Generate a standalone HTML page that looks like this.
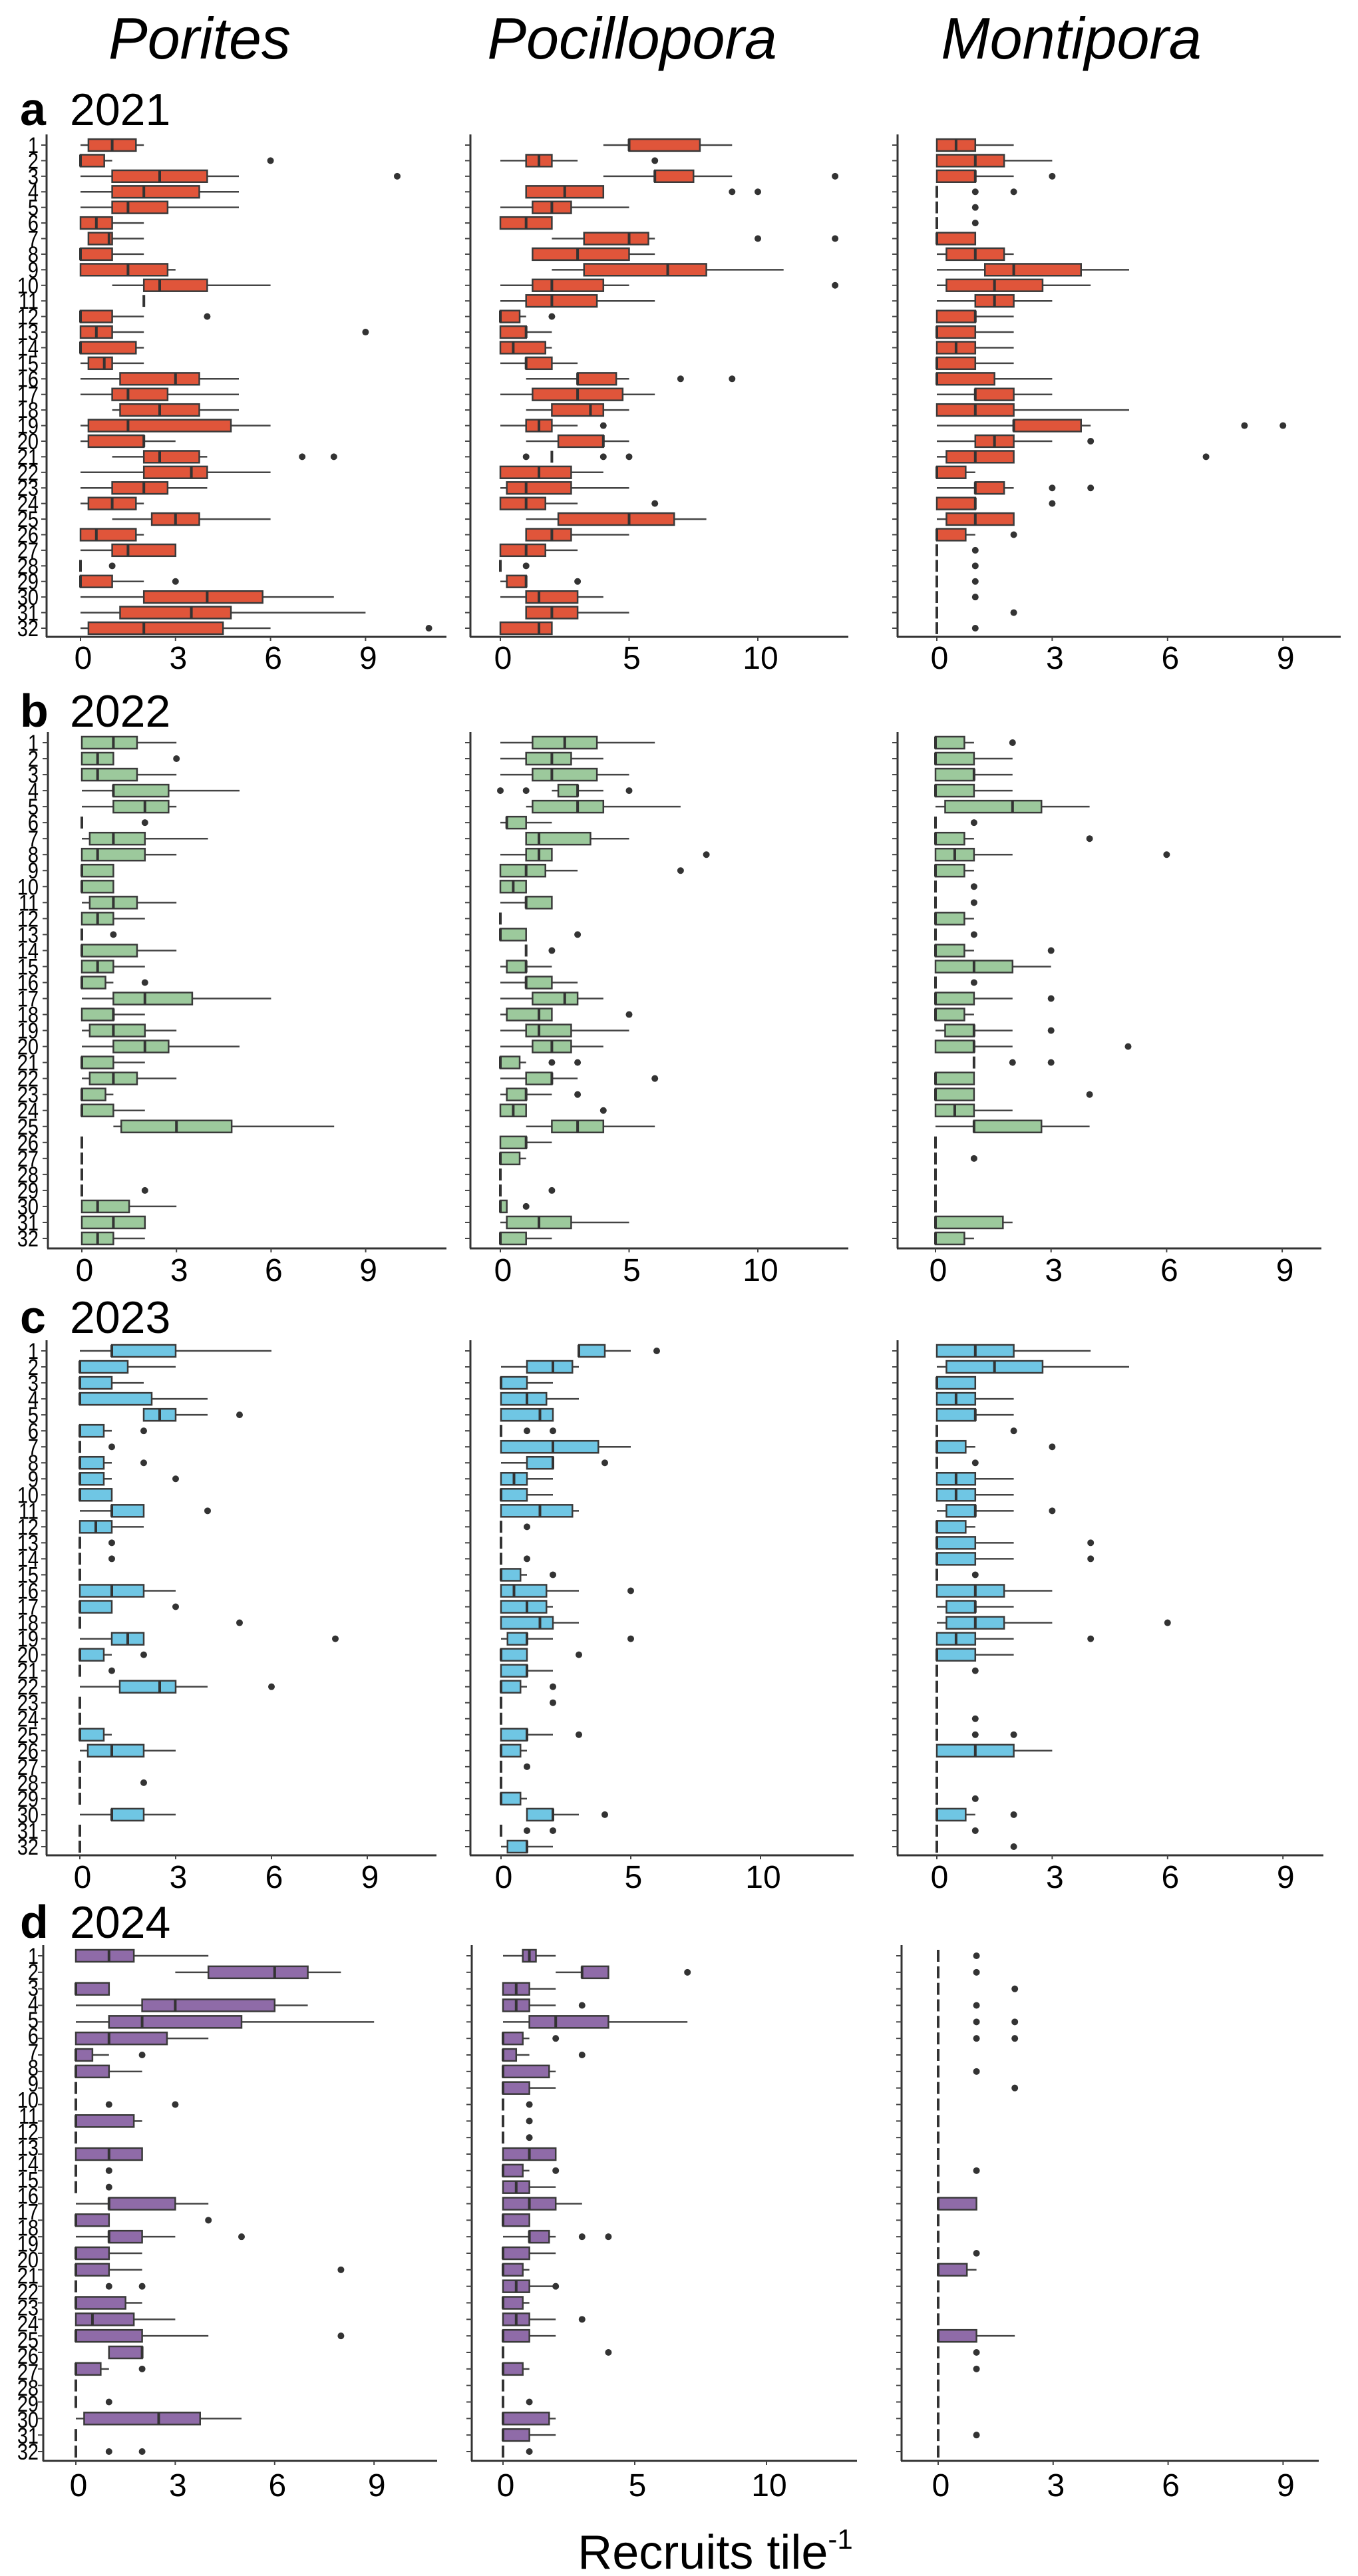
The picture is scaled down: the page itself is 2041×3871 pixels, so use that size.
<!DOCTYPE html>
<html><head><meta charset="utf-8">
<style>
html,body{margin:0;padding:0;background:#fff;}
svg{display:block;font-family:"Liberation Sans",sans-serif;}
</style></head>
<body>
<svg id="fig" width="2041" height="3871" viewBox="0 0 2041 3871" xmlns="http://www.w3.org/2000/svg">
<text x="300" y="88" font-size="88" font-style="italic" text-anchor="middle">Porites</text>
<text x="950" y="88" font-size="88" font-style="italic" text-anchor="middle">Pocillopora</text>
<text x="1610" y="88" font-size="88" font-style="italic" text-anchor="middle">Montipora</text>
<text x="1075" y="3860" font-size="72" text-anchor="middle">Recruits tile<tspan font-size="42" dy="-30">-1</tspan></text>
</svg>
<script>
// each box: [whiskerLow, q1, median, q3, whiskerHigh]
const Z=[0,0,0,0,0];
const porites2021=[[0,.25,1,1.75,2],[0,0,0,.75,1],[0,1,2.5,4,5],[0,1,2,3.75,5],[0,1,1.5,2.75,5],[0,0,.5,1,2],[.25,.25,.9,1,2],[0,0,0,1,2],[0,0,1.5,2.75,3],[1,2,2.5,4,6],[2,2,2,2,2],[0,0,0,1,2],[0,0,.5,1,2],[0,0,0,1.75,2],[0,.25,.75,1,2],[0,1.25,3,3.75,5],[0,1,1.5,2.75,5],[1,1.25,2.5,3.75,5],[0,.25,1.5,4.75,6],[0,.25,2,2,3],[1,2,2.5,3.75,4],[0,2,3.5,4,6],[0,1,2,2.75,4],[0,.25,1,1.75,2],[1,2.25,3,3.75,6],[0,0,.5,1.75,2],[0,1,1.5,3,3],Z,[0,0,0,1,2],[0,2,4,5.75,8],[0,1.25,3.5,4.75,9],[0,.25,2,4.5,6]];
const pocillopora2021=[[4,5,5,7.75,9],[0,1,1.5,2,3],[4,6,6,7.5,9],[1,1,2.5,4,4],[0,1.25,2,2.75,5],[0,0,1,2,2],[2,3.25,5,5.75,6],[1.25,1.25,3,5,6],[2,3.25,6.5,8,11],[0,1.25,2,4,5],[0,1,2,3.75,6],[0,0,0,.75,1],[0,0,1,1,2],[0,0,.5,1.75,2],[0,1,1,2,3],[1,3,3,4.5,5],[0,1.25,3,4.75,6],[1,2,3.5,4,5],[0,1,1.5,2,3],[1,2.25,4,4,5],[2,2,2,2,2],[0,0,1.5,2.75,4],[0,.25,1,2.75,5],[0,0,1,1.75,3],[1,2.25,5,6.75,8],[1,1,2,2.75,5],[0,0,1,1.75,3],Z,[0,.25,1,1,1],[0,1,1.5,3,4],[1,1,2,3,5],[0,0,1.5,2,2]];
const montipora2021=[[0,0,.5,1,2],[0,0,1,1.75,3],[0,0,1,1,2],Z,Z,Z,[0,0,0,1,1],[0,.25,1,1.75,2],[0,1.25,2,3.75,5],[0,.25,1.5,2.75,4],[0,1,1.5,2,3],[0,0,1,1,2],[0,0,0,1,2],[0,0,.5,1,2],[0,0,0,1,2],[0,0,0,1.5,3],[0,1,1,2,3],[0,0,1,2,5],[0,2,2,3.75,4],[0,1,1.5,2,3],[0,.25,1,2,2],[0,0,0,.75,1],[0,1,1,1.75,2],[0,0,1,1,1],[0,.25,1,2,2],[0,0,0,.75,1],Z,Z,Z,Z,Z,Z];
const porites2022=[[0,0,1,1.75,3],[0,0,.5,1,1],[0,0,.5,1.75,3],[0,1,1,2.75,5],[0,1,2,2.75,3],Z,[0,.25,1,2,4],[0,0,.5,2,3],[0,0,0,1,1],[0,0,0,1,1],[0,.25,1,1.75,3],[0,0,.5,1,2],Z,[0,0,0,1.75,3],[0,0,.5,1,2],[0,0,0,.75,1],[0,1,2,3.5,6],[0,0,1,1,2],[0,.25,1,2,3],[0,1,2,2.75,5],[0,0,0,1,2],[0,.25,1,1.75,3],[0,0,0,.75,1],[0,0,0,1,2],[1,1.25,3,4.75,8],Z,Z,Z,Z,[0,0,.5,1.5,3],[0,0,1,2,2],[0,0,.5,1,2]];
const pocillopora2022=[[0,1.25,2.5,3.75,6],[0,1,2,2.75,4],[0,1.25,2,3.75,5],[2,2.25,3,3,4],[1,1.25,3,4,7],[0,.25,.25,1,2],[1,1,1.5,3.5,5],[0,1,1.5,2,2],[0,0,1,1.75,3],[0,0,.5,1,1],[0,1,1,2,2],Z,[0,0,0,1,1],[1,1,1,1,1],[0,.25,1,1,2],[0,1,1,2,3],[0,1.25,2.5,3,4],[0,.25,1.5,2,2],[0,1,1.5,2.75,5],[0,1.25,2,2.75,4],[0,0,0,.75,1],[0,1,2,2,3],[0,.25,1,1,2],[0,0,.5,1,1],[1,2,3,4,6],[0,0,1,1,2],[0,0,0,.75,1],Z,Z,[0,0,0,.25,.25],[0,.25,1.5,2.75,5],[0,0,0,1,2]];
const montipora2022=[[0,0,0,.75,1],[0,0,0,1,2],[0,0,1,1,2],[0,0,0,1,2],[0,.25,2,2.75,4],Z,[0,0,0,.75,1],[0,0,.5,1,2],[0,0,0,.75,1],Z,Z,[0,0,0,.75,1],Z,[0,0,0,.75,1],[0,0,1,2,3],Z,[0,0,0,1,2],[0,0,0,.75,1],[0,.25,1,1,2],[0,0,1,1,2],[1,1,1,1,1],[0,0,0,1,1],[0,0,0,1,1],[0,0,.5,1,2],[0,1,1,2.75,4],Z,Z,Z,Z,Z,[0,0,0,1.75,2],[0,0,0,.75,1]];
const porites2023=[[0,1,1,3,6],[0,0,0,1.5,3],[0,0,0,1,2],[0,0,0,2.25,4],[2,2,2.5,3,4],[0,0,0,.75,1],Z,[0,0,0,.75,1],[0,0,0,.75,1],[0,0,0,1,1],[0,1,1,2,2],[0,0,.5,1,2],Z,Z,Z,[0,0,1,2,3],[0,0,0,1,1],Z,[0,1,1.5,2,2],[0,0,0,.75,1],Z,[0,1.25,2.5,3,4],Z,Z,[0,0,0,.75,1],[0,.25,1,2,3],Z,Z,Z,[0,1,1,2,3],Z,Z];
const pocillopora2023=[[3,3,3,4,5],[0,1,2,2.75,3],[0,0,0,1,2],[0,0,1,1.75,3],[0,0,1.5,2,2],Z,[0,0,2,3.75,5],[0,1,2,2,2],[0,0,.5,1,2],[0,0,0,1,2],[0,0,1.5,2.75,3],Z,Z,Z,[0,0,0,.75,1],[0,0,.5,1.75,3],[0,0,1,1.75,2],[0,0,1.5,2,3],[0,.25,1,1,2],[0,0,0,1,1],[0,0,1,1,2],[0,0,0,.75,1],Z,Z,[0,0,1,1,2],[0,0,0,.75,1],Z,Z,[0,0,0,.75,1],[1,1,2,2,3],Z,[0,.25,1,1,2]];
const montipora2023=[[0,0,1,2,4],[0,.25,1.5,2.75,5],[0,0,0,1,1],[0,0,.5,1,2],[0,0,1,1,2],Z,[0,0,0,.75,1],Z,[0,0,.5,1,2],[0,0,.5,1,2],[0,.25,1,1,2],[0,0,0,.75,1],[0,0,0,1,2],[0,0,0,1,2],Z,[0,0,1,1.75,3],[0,.25,1,1,2],[0,.25,1,1.75,3],[0,0,.5,1,2],[0,0,0,1,2],Z,Z,Z,Z,Z,[0,0,1,2,3],Z,Z,Z,[0,0,0,.75,1],Z,Z];
const porites2024=[[0,0,1,1.75,4],[3,4,6,7,8],[0,0,0,1,1],[0,2,3,6,7],[0,1,2,5,9],[0,0,1,2.75,4],[0,0,0,.5,1],[0,0,0,1,2],Z,Z,[0,0,0,1.75,2],Z,[0,0,1,2,2],Z,Z,[0,1,1,3,4],[0,0,0,1,1],[0,1,1,2,3],[0,0,0,1,2],[0,0,0,1,2],Z,[0,0,0,1.5,2],[0,0,.5,1.75,3],[0,0,0,2,4],[1,1,2,2,2],[0,0,0,.75,1],Z,Z,[0,.25,2.5,3.75,5],Z,Z];
const pocillopora2024=[[0,.75,1,1.25,2],[2,3,3,4,4],[0,0,.5,1,2],[0,0,.5,1,2],[0,1,2,4,7],[0,0,0,.75,1],[0,0,0,.5,1],[0,0,0,1.75,2],[0,0,0,1,2],Z,Z,Z,[0,0,1,2,2],[0,0,0,.75,1],[0,0,.5,1,2],[0,0,1,2,3],[0,0,0,1,1],[0,1,1,1.75,2],[0,0,0,1,2],[0,0,0,.75,1],[0,0,.5,1,2],[0,0,0,.75,1],[0,0,.5,1,2],[0,0,0,1,2],Z,[0,0,0,.75,1],Z,Z,[0,0,0,1.75,2],[0,0,0,1,2],Z];
const montipora2024=[Z,Z,Z,Z,Z,Z,Z,Z,Z,Z,Z,Z,Z,Z,Z,[0,0,0,1,1],Z,Z,Z,[0,0,0,.75,1],Z,Z,Z,[0,0,0,1,2],Z,Z,Z,Z,Z,Z,Z];
// outliers: [row, value]
const outP21=[[2,6],[3,10],[12,4],[13,9],[21,7],[21,8],[28,1],[29,3],[32,11]];
const outC21=[[2,6],[3,13],[4,9],[4,10],[7,10],[7,13],[10,13],[12,2],[16,7],[16,9],[19,4],[21,1],[21,4],[21,5],[24,6],[28,1],[29,3]];
const outM21=[[3,3],[4,1],[4,2],[5,1],[6,1],[19,8],[19,9],[20,4],[21,7],[23,3],[23,4],[24,3],[26,2],[27,1],[28,1],[29,1],[30,1],[31,2],[32,1]];
const outP22=[[2,3],[6,2],[13,1],[16,2],[29,2]];
const outC22=[[4,0],[4,1],[4,5],[8,8],[9,7],[13,3],[14,2],[18,5],[21,2],[21,3],[22,6],[23,3],[24,4],[29,2],[30,1]];
const outM22=[[1,2],[6,1],[7,4],[8,6],[10,1],[11,1],[13,1],[14,3],[16,1],[17,3],[19,3],[20,5],[21,2],[21,3],[23,4],[27,1]];
const outP23=[[5,5],[6,2],[7,1],[8,2],[9,3],[11,4],[13,1],[14,1],[17,3],[18,5],[19,8],[20,2],[21,1],[22,6],[28,2]];
const outC23=[[1,6],[6,1],[6,2],[8,4],[12,1],[14,1],[15,2],[16,5],[19,5],[20,3],[22,2],[23,2],[25,3],[27,1],[30,4],[31,1],[31,2]];
const outM23=[[6,2],[7,3],[8,1],[11,3],[13,4],[14,4],[15,1],[18,6],[19,4],[21,1],[24,1],[25,1],[25,2],[29,1],[30,2],[31,1],[32,2]];
const outP24=[[7,2],[10,1],[10,3],[14,1],[15,1],[17,4],[18,5],[20,8],[21,1],[21,2],[24,8],[26,2],[28,1],[31,1],[31,2]];
const outC24=[[2,7],[4,3],[6,2],[7,3],[10,1],[11,1],[12,1],[14,2],[18,3],[18,4],[21,2],[23,3],[25,4],[28,1],[31,1]];
const outM24=[[1,1],[2,1],[3,2],[4,1],[5,1],[5,2],[6,1],[6,2],[8,1],[9,2],[14,1],[19,1],[25,1],[26,1],[30,1]];
const siteLabels=Array.from({length:32},(_, i)=>String(i+1));
const ticksPorites=[0,3,6,9];
const ticksPocillopora=[0,5,10];
const ticksMontipora=[0,3,6,9];
const years=["2021","2022","2023","2024"];
const letters=["a","b","c","d"];

const fills=["#e0553a","#9cc99c","#6fc6e4","#8f6ba8"];
const rowsGeom=[{y1:218,yN:944,axis:957,tick:988,label:164},{y1:1116,yN:1861,axis:1876,tick:1908,label:1068},{y1:2030,yN:2775,axis:2788,tick:2820,label:1979},{y1:2939,yN:3684,axis:3698,tick:3734,label:2888}];
const colGeom=[
 [{x0:121,u:47.6,l:70,r:671},{x0:123,u:47.4,l:72,r:671},{x0:120,u:48.0,l:70,r:656},{x0:114,u:49.8,l:65,r:657}],
 [{x0:752,u:38.7,l:707,r:1275},{x0:752,u:38.7,l:707,r:1275},{x0:753,u:39.0,l:707,r:1283},{x0:756,u:39.6,l:709,r:1288}],
 [{x0:1408,u:57.8,l:1349,r:2015},{x0:1406,u:57.9,l:1349,r:1986},{x0:1408,u:57.8,l:1349,r:1989},{x0:1410,u:57.6,l:1355,r:1982}]];
const data=[[porites2021,pocillopora2021,montipora2021],[porites2022,pocillopora2022,montipora2022],[porites2023,pocillopora2023,montipora2023],[porites2024,pocillopora2024,montipora2024]];
const outs=[[outP21,outC21,outM21],[outP22,outC22,outM22],[outP23,outC23,outM23],[outP24,outC24,outM24]];
const ticks=[ticksPorites,ticksPocillopora,ticksMontipora];
const genus=["porites","pocillopora","montipora"];
const svg=document.getElementById('fig');
const NS="http://www.w3.org/2000/svg";
function mk(tag,attrs,parent){const e=document.createElementNS(NS,tag);for(const k in attrs)e.setAttribute(k,attrs[k]);(parent||svg).appendChild(e);return e;}

for(let p=0;p<4;p++){
  const R=rowsGeom[p];
  const lab=mk('text',{x:30,y:R.label+24,'font-size':70,'font-weight':'bold'});
  lab.textContent=letters[p];
  
  
  const yr=mk('text',{x:105,y:R.label+24,'font-size':68});
  yr.textContent=years[p];
  
  
  const nl=siteLabels.length;
  for(let i=0;i<nl;i++){
    const y=R.y1+(R.yN-R.y1)*i/(nl-1);
    const t=mk('text',{x:58,y:y+12,'font-size':34,'text-anchor':'end',transform:`translate(58 ${y}) scale(0.85 1) translate(-58 ${-y})`});
    t.textContent=siteLabels[i];
    
    
  }
  for(let c=0;c<3;c++){
    const G=colGeom[c][p];
    const X=v=>G.x0+v*G.u;
    const g=mk('g',{});
    
    
    const arr=data[p][c];
    const n=arr.length;
    const sp=(R.yN-R.y1)/(n-1);
    const Y=i=>R.y1+i*sp;
    const bh=Math.min(18,sp*0.76);
    mk('line',{x1:G.l,y1:R.y1-16,x2:G.l,y2:R.axis,stroke:'#333','stroke-width':3},g);
    for(let i=0;i<n;i++) mk('line',{x1:G.l-8,y1:Y(i),x2:G.l,y2:Y(i),stroke:'#444','stroke-width':2},g);
    const ax=mk('line',{x1:G.l-1,y1:R.axis,x2:G.r,y2:R.axis,stroke:'#333','stroke-width':3},g);
    
    
    ticks[c].forEach(tv=>{
      mk('line',{x1:X(tv),y1:R.axis,x2:X(tv),y2:R.axis+6,stroke:'#444','stroke-width':2},g);
      const tl=mk('text',{x:X(tv)+4,y:R.tick+17,'font-size':48,'text-anchor':'middle'},g);
      tl.textContent=String(tv);
      
      
    });
    arr.forEach((b,i)=>{
      const y=Y(i);
      const w=mk('line',{x1:X(b[0]),y1:y,x2:X(b[4]),y2:y,stroke:'#444','stroke-width':2.5},g);
      
      
      const r=mk('rect',{x:X(b[1]),y:y-bh/2,width:Math.max(0,X(b[3])-X(b[1])),height:bh,fill:fills[p],stroke:'#3a3a3a','stroke-width':2.5},g);
      
      
      const m=mk('line',{x1:X(b[2]),y1:y-bh/2,x2:X(b[2]),y2:y+bh/2,stroke:'#333','stroke-width':4},g);
      
      
    });
    outs[p][c].forEach(o=>{
      const d=mk('circle',{cx:X(o[1]),cy:Y(o[0]-1),r:5,fill:'#333'},g);
      
      
    });
  }
}
</script>
</body></html>
